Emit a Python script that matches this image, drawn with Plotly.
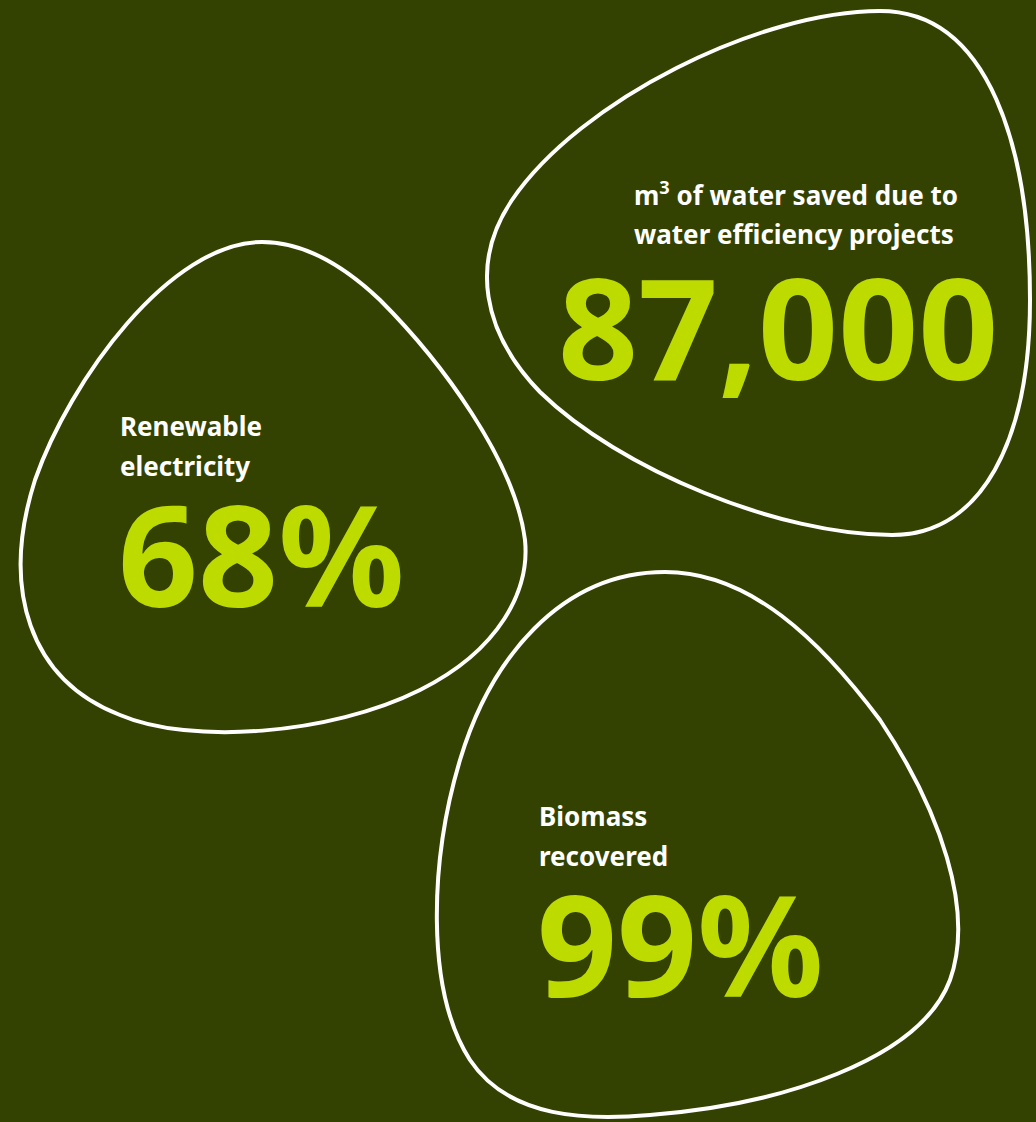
import plotly.graph_objects as go

# ===========================
# DATA
# ===========================
label_lines = [
    ["m<sup>3</sup> of water saved due to", "water efficiency projects"],
    ["Renewable", "electricity"],
    ["Biomass", "recovered"],
]
values = ["87,000", "68%", "99%"]

# layout anchors in pixel space (left x, first label line y, value centre)
label_x = [632, 118, 537]
label_y = [194, 426, 816]
value_x = [556, 116, 535]
value_y = [325, 552, 942]

BG = "#334200"
LIME = "#bedb00"
W, H = 1036, 1122
LINE_GAP = 40

# blob outlines (decorative)
blobs = [
    "M 880,11 C 760,11 580,100 512,200 C 470,262 482,332 540,392 "
    "C 620,470 780,535 892,535 C 982,535 1030,440 1030,300 C 1030,150 990,11 880,11 Z",
    "M 262,242 C 170,242 70,380 35,480 C 0,590 30,680 120,715 "
    "C 190,745 330,735 420,690 C 500,650 530,590 525,540 C 515,460 440,360 380,300 "
    "C 340,262 300,242 262,242 Z",
    "M 665,572 C 560,572 490,660 460,760 C 430,860 425,990 470,1060 "
    "C 510,1120 590,1120 650,1115 C 780,1105 920,1060 950,980 "
    "C 975,910 940,810 880,720 C 820,640 750,572 665,572 Z",
]

fig = go.Figure()

for p in blobs:
    fig.add_shape(type="path", path=p, xref="x", yref="y",
                  line=dict(color="white", width=4), fillcolor="rgba(0,0,0,0)")

for lines, val, lx, ly, vx, vy in zip(label_lines, values, label_x, label_y, value_x, value_y):
    for i, line in enumerate(lines):
        fig.add_annotation(x=lx, y=ly + i * LINE_GAP, text=line, showarrow=False,
                           xanchor="left", yanchor="middle",
                           font=dict(color="white", size=26, family="Noto Sans", weight="bold"))
    fig.add_annotation(x=vx, y=vy, text=val, showarrow=False, xanchor="left",
                       yanchor="middle",
                       font=dict(color=LIME, size=140, family="Noto Sans", weight="bold"))

fig.update_layout(
    width=W, height=H,
    paper_bgcolor=BG, plot_bgcolor=BG,
    margin=dict(l=0, r=0, t=0, b=0),
    showlegend=False,
    xaxis=dict(range=[0, W], visible=False, fixedrange=True),
    yaxis=dict(range=[H, 0], visible=False, fixedrange=True),
)

fig.write_html(
    "out.html",
    config={"displayModeBar": False},
    post_script="document.body.style.margin='0';document.body.style.background='%s';" % BG,
)
